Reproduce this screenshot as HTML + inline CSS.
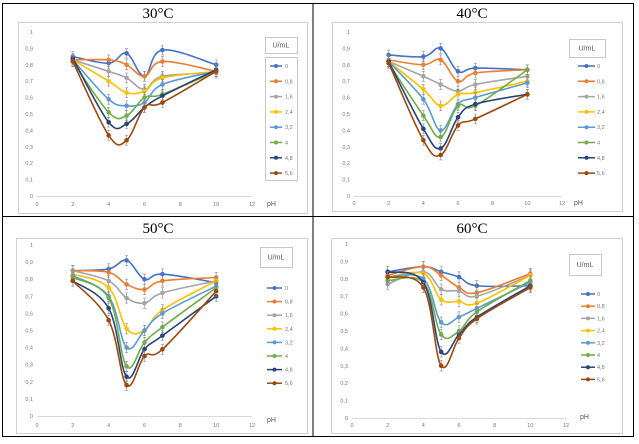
<!DOCTYPE html>
<html><head><meta charset="utf-8"><style>
html,body{margin:0;padding:0;background:#fff;}
body{width:639px;height:444px;overflow:hidden;}
svg{display:block;font-family:"Liberation Sans",sans-serif;}
</style></head><body>
<svg id="fig" width="639" height="444" viewBox="0 0 639 444">
<rect x="2.5" y="3.5" width="631" height="433" fill="none" stroke="#000" stroke-width="1"/>
<line x1="313" y1="3" x2="313" y2="437" stroke="#000"/>
<line x1="2" y1="216.5" x2="634" y2="216.5" stroke="#000"/>
</svg>
<script>
const phValues=[2,4,5,6,7,10];
const doses=["0","0,8","1,6","2,4","3,2","4","4,8","5,6"];
const colors=["#4472C4","#ED7D31","#A5A5A5","#FFC000","#5B9BD5","#70AD47","#264478","#9E480E"];
const xTicks=[0,2,4,6,8,10,12];
const yTicks=[0,0.1,0.2,0.3,0.4,0.5,0.6,0.7,0.8,0.9,1];
const yTickLabels=["0","0,1","0,2","0,3","0,4","0,5","0,6","0,7","0,8","0,9","1"];
const errorSize=0.03;
const data30=[
[.85,.81,.87,.73,.89,.80],
[.83,.83,.80,.73,.82,.76],
[.83,.76,.72,.65,.73,.75],
[.83,.70,.63,.64,.72,.76],
[.83,.59,.55,.57,.68,.76],
[.82,.51,.49,.60,.62,.76],
[.84,.45,.44,.54,.61,.77],
[.82,.37,.34,.54,.57,.76]];
const data40=[
[.86,.85,.90,.76,.78,.77],
[.83,.80,.83,.70,.75,.77],
[.82,.73,.68,.64,.68,.73],
[.82,.65,.55,.62,.63,.70],
[.82,.59,.40,.56,.60,.69],
[.81,.49,.36,.55,.55,.77],
[.82,.41,.29,.48,.56,.62],
[.81,.34,.25,.43,.47,.62]];
const data50=[
[.85,.86,.91,.80,.83,.78],
[.85,.84,.77,.74,.79,.81],
[.85,.79,.69,.66,.72,.79],
[.83,.75,.51,.50,.62,.79],
[.82,.70,.40,.50,.60,.76],
[.81,.69,.29,.43,.52,.75],
[.79,.63,.23,.39,.47,.70],
[.79,.56,.18,.35,.39,.73]];
const data60=[
[.84,.87,.84,.81,.76,.76],
[.82,.87,.82,.75,.72,.83],
[.77,.84,.74,.73,.70,.82],
[.81,.83,.68,.67,.66,.82],
[.81,.80,.55,.58,.63,.78],
[.79,.78,.48,.50,.61,.79],
[.84,.78,.38,.48,.58,.76],
[.81,.75,.30,.46,.57,.75]];
const titles=["30°C","40°C","50°C","60°C"];

const panels=[
 {d:data30,box:[18,22,289,191],x0:37,x12:252,y0:196,y1:32,title:[158,18],lab:206,ph:[267,206],lt:[265,37,32,16],lb:[265,57,32,123],ly:66,ls:15.3,lx:[270,282,285]},
 {d:data40,box:[332,22,290,189],x0:354,x12:562,y0:196,y1:32,title:[472,18],lab:205,ph:[574,205],lt:[569,39,36,18],lb:null,ly:66,ls:15.3,lx:[578,595,597]},
 {d:data50,box:[16,238,291,195],x0:37,x12:252,y0:416,y1:245,title:[158,233],lab:427,ph:[267,422],lt:[260,247,32,20],lb:null,ly:288,ls:13.6,lx:[267,282,285]},
 {d:data60,box:[331,238,291,195],x0:352,x12:566,y0:418,y1:244,title:[472,233],lab:427,ph:[580,419],lt:[569,254,32,21],lb:null,ly:294,ls:12.2,lx:[581,595,597]}
];
const NS="http://www.w3.org/2000/svg";
const svg=document.getElementById('fig');
function mk(t,a,p){const e=document.createElementNS(NS,t);for(const k in a)e.setAttribute(k,a[k]);(p||svg).appendChild(e);return e;}
function spline(pts){
 let s=`M${pts[0][0]},${pts[0][1]}`;
 for(let i=0;i<pts.length-1;i++){
  const p0=pts[i-1]||pts[i],p1=pts[i],p2=pts[i+1],p3=pts[i+2]||p2,t=0.18*1.0;
  const c1=[p1[0]+(p2[0]-p0[0])*t,p1[1]+(p2[1]-p0[1])*t];
  const c2=[p2[0]-(p3[0]-p1[0])*t,p2[1]-(p3[1]-p1[1])*t];
  s+=` C${c1[0]},${c1[1]} ${c2[0]},${c2[1]} ${p2[0]},${p2[1]}`;
 }
 return s;
}
panels.forEach((P,pi)=>{
 const g=mk('g',{});
 
 
 const X=v=>P.x0+(P.x12-P.x0)*v/12;
 const Y=v=>P.y0-(P.y0-P.y1)*v;
 const b=mk('rect',{x:P.box[0]+.5,y:P.box[1]+.5,width:P.box[2],height:P.box[3],fill:'#fff',stroke:'#d0d0d0'},g);
 
 
 const tt=mk('text',{x:P.title[0],y:P.title[1],'text-anchor':'middle','font-size':'15','font-family':'Liberation Serif, serif',fill:'#000'},g);
 tt.textContent=titles[pi];
 
 
 const ax=mk('line',{x1:X(0),y1:P.y0+.5,x2:X(12),y2:P.y0+.5,stroke:'#d9d9d9'},g);
 
 
 yTicks.forEach((v,i)=>{const t=mk('text',{x:X(0)-4,y:Y(v)+2,'text-anchor':'end','font-size':'5.5',fill:'#777'},g);t.textContent=yTickLabels[i];
  
  });
 xTicks.forEach(v=>{const t=mk('text',{x:X(v),y:P.lab,'text-anchor':'middle','font-size':'5.5',fill:'#777'},g);t.textContent=v;
  
  });
 const ph=mk('text',{x:P.ph[0],y:P.ph[1],'font-size':'7',fill:'#555'},g);ph.textContent='pH';
 
 
 P.d.forEach((ser,si)=>{
  const sg=mk('g',{},g);
  
  
  const pts=ser.map((v,i)=>[X(phValues[i]),Y(v)]);
  ser.forEach((v,i)=>{
   const x=X(phValues[i]);
   mk('path',{d:`M${x},${Y(v+errorSize)}V${Y(v-errorSize)}M${x-1.5},${Y(v+errorSize)}h3M${x-1.5},${Y(v-errorSize)}h3`,stroke:'#888','stroke-width':.6,fill:'none'},sg);
  });
  mk('path',{d:spline(pts),stroke:colors[si],'stroke-width':1.6,fill:'none'},sg);
  pts.forEach(p=>{const c=mk('circle',{cx:p[0],cy:p[1],r:2.3,fill:colors[si]},sg);
   
   });
 });
 const lt=P.lt;
 const lg=mk('g',{},g);
 
 
 mk('rect',{x:lt[0]+.5,y:lt[1]+.5,width:lt[2],height:lt[3],fill:'#fff',stroke:'#c8c8c8'},lg);
 const ltx=mk('text',{x:lt[0]+lt[2]/2,y:lt[1]+lt[3]/2+2.5,'text-anchor':'middle','font-size':'7',fill:'#555'},lg);ltx.textContent='U/mL';
 
 
 if(P.lb) mk('rect',{x:P.lb[0]+.5,y:P.lb[1]+.5,width:P.lb[2],height:P.lb[3],fill:'none',stroke:'#c8c8c8'},lg);
 doses.forEach((d,i)=>{
  const y=P.ly+i*P.ls;
  const e=mk('g',{},lg);
  
  
  mk('line',{x1:P.lx[0],y1:y,x2:P.lx[1],y2:y,stroke:colors[i],'stroke-width':1.5},e);
  mk('circle',{cx:(P.lx[0]+P.lx[1])/2,cy:y,r:2,fill:colors[i]},e);
  const t=mk('text',{x:P.lx[2],y:y+2,'font-size':'5.5',fill:'#777'},e);t.textContent=d;
 });
});
</script>
</body></html>
